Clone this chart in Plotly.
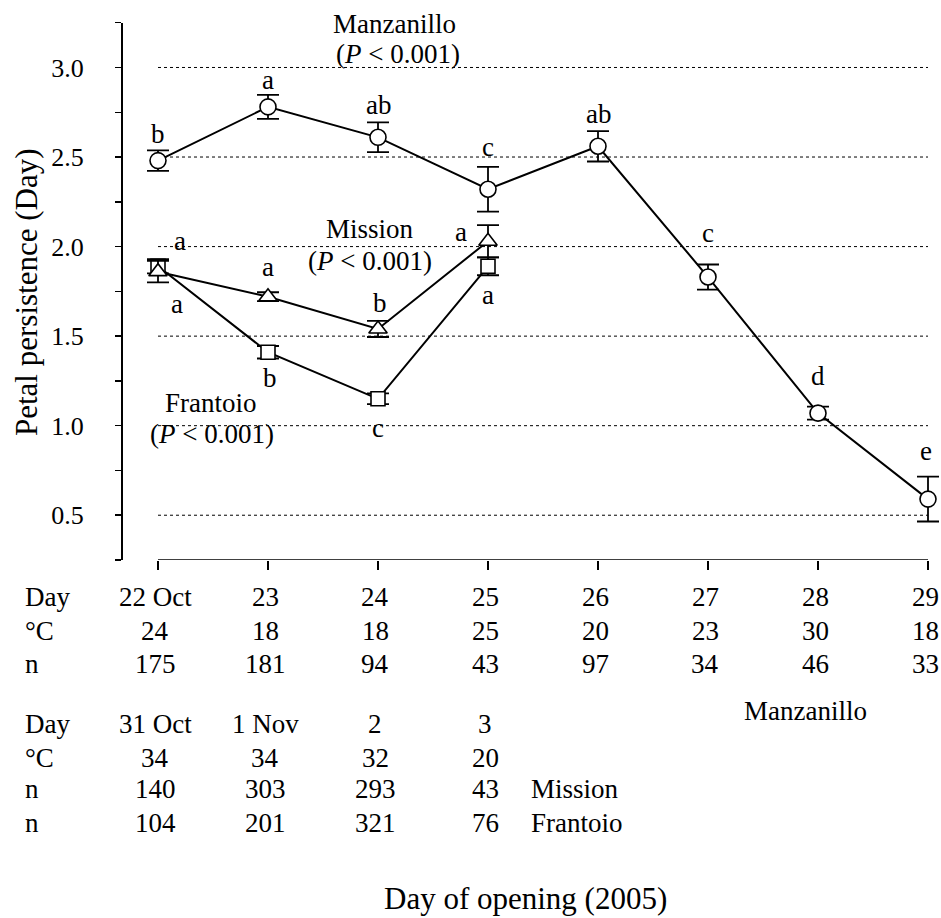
import plotly.graph_objects as go

# ---------------- data ----------------
days = ["22 Oct", "23", "24", "25", "26", "27", "28", "29"]
temp_c = [24, 18, 18, 25, 20, 23, 30, 18]
n_manzanillo = [175, 181, 94, 43, 97, 34, 46, 33]

days2 = ["31 Oct", "1 Nov", "2", "3"]
temp_c2 = [34, 34, 32, 20]
n_mission = [140, 303, 293, 43]
n_frantoio = [104, 201, 321, 76]

manz_mean = [2.48, 2.78, 2.61, 2.32, 2.56, 1.83, 1.07, 0.59]
manz_se = [0.057, 0.067, 0.083, 0.125, 0.085, 0.07, 0.036, 0.125]
mission_mean = [1.86, 1.72, 1.54, 2.03]
mission_se = [0.06, 0.025, 0.045, 0.09]
frantoio_mean = [1.89, 1.41, 1.15, 1.89]
frantoio_se = [0.04, 0.035, 0.03, 0.05]

manz_letters = ["b", "a", "ab", "c", "ab", "c", "d", "e"]
mission_letters = ["a", "a", "b", "a"]
frantoio_letters = ["a", "b", "c", "a"]

y_ticks = [0.5, 1.0, 1.5, 2.0, 2.5, 3.0]
y_minor = [0.25, 0.75, 1.25, 1.75, 2.25, 2.75, 3.25]
y_range = [0.25, 3.25]

# ---------------- layout helpers ----------------
W, H = 941, 918
FONT = "Liberation Serif"


def px(x):
    return x / W


def py(y):
    return 1 - y / H


# letter offsets (pixels) relative to each point
manz_off = [(0, 27), (0, 27), (0, 32), (0, 42), (0, 32), (0, 44), (0, 37), (-2, 48)]
mission_off = [(22, 31), (0, 30), (2, 26), (-27, 9)]
frantoio_off = [(19, -38), (2, -26), (0, -29), (0, -29)]

x_all = list(range(len(days)))
x_sub = list(range(len(days2)))
x_last = x_all[-1]

# x scale: first category at 158px, 110px per category; a little padding on
# both sides so that the error-bar caps at the ends are not clipped
X0_PX, STEP_PX = 158, 110
PAD_L = 0.15
x_range = [-PAD_L, x_last + (W - (X0_PX + x_last * STEP_PX)) / STEP_PX]

fig = go.Figure()


def add_series(x, y, se, symbol, size):
    fig.add_trace(go.Scatter(
        x=x, y=y, mode="lines+markers",
        line=dict(color="black", width=2),
        marker=dict(symbol=symbol, size=size, color="white",
                    line=dict(color="black", width=1.6)),
        error_y=dict(type="data", array=se, visible=True, color="black",
                     thickness=1.8, width=11),
        cliponaxis=False, showlegend=False, hoverinfo="skip",
    ))


add_series(x_sub, frantoio_mean, frantoio_se, "square", 14)
add_series(x_sub, mission_mean, mission_se, "triangle-up", 16)
add_series(x_all, manz_mean, manz_se, "circle", 16)

ann = []


def letters(xs, ys, labs, offs):
    for xv, yv, lab, (dx, dy) in zip(xs, ys, labs, offs):
        ann.append(dict(x=xv, y=yv, xref="x", yref="y", text=lab,
                        showarrow=False, xshift=dx, yshift=dy,
                        xanchor="center", yanchor="middle",
                        font=dict(family=FONT, size=27, color="black")))


letters(x_all, manz_mean, manz_letters, manz_off)
letters(x_sub, mission_mean, mission_letters, mission_off)
letters(x_sub, frantoio_mean, frantoio_letters, frantoio_off)


def ptext(x, y, text, size=27, xanchor="center", angle=0):
    ann.append(dict(x=px(x), y=py(y), xref="paper", yref="paper", text=text,
                    showarrow=False, xanchor=xanchor, yanchor="middle",
                    textangle=angle,
                    font=dict(family=FONT, size=size, color="black")))


P_TXT = "(<i>P</i> < 0.001)"
ptext(394, 24, "Manzanillo")
ptext(398, 54, P_TXT)
ptext(370, 229, "Mission")
ptext(370, 261, P_TXT)
ptext(211, 403, "Frantoio")
ptext(212, 434, P_TXT)


# table rows under the axis
def row(xs, vals, ymid):
    for xv, v in zip(xs, vals):
        ann.append(dict(x=xv, y=py(ymid), xref="x", yref="paper", text=str(v),
                        showarrow=False, xshift=-3, xanchor="center",
                        yanchor="middle",
                        font=dict(family=FONT, size=27, color="black")))


row(x_all, days, 597)
row(x_all, temp_c, 631)
row(x_all, n_manzanillo, 664)
row(x_sub, days2, 724)
row(x_sub, temp_c2, 758)
row(x_sub, n_mission, 789)
row(x_sub, n_frantoio, 823)

for lab, ymid in [("Day", 597), ("°C", 631), ("n", 664),
                  ("Day", 724), ("°C", 758), ("n", 789), ("n", 823)]:
    ptext(23, ymid, lab, xanchor="left")

ptext(805, 711, "Manzanillo")
ptext(529, 789, "Mission", xanchor="left")
ptext(529, 823, "Frantoio", xanchor="left")

ptext(525, 898, "Day of opening (2005)", size=31)
ptext(26, 292, "Petal persistence (Day)", size=31, angle=-90)

# x-axis line and dotted gridlines span only the first..last category
shapes = [dict(type="line", xref="x", yref="y", x0=0, x1=x_last,
               y0=y_range[0], y1=y_range[0],
               line=dict(color="black", width=1.5), layer="above")]
for v in y_ticks:
    shapes.append(dict(type="line", xref="x", yref="y", x0=0, x1=x_last,
                       y0=v, y1=v, layer="below",
                       line=dict(color="black", width=1, dash="dot")))

fig.update_layout(
    width=W, height=H, autosize=False,
    margin=dict(l=0, r=0, t=0, b=0),
    paper_bgcolor="white", plot_bgcolor="white",
    font=dict(family=FONT, size=26, color="black"),
    annotations=ann,
    shapes=shapes,
    xaxis=dict(
        domain=[px(X0_PX - PAD_L * STEP_PX), 1], range=x_range, anchor="y",
        showline=False,
        tickvals=x_all, ticks="outside", ticklen=9, tickwidth=1.5,
        tickcolor="black", showticklabels=False,
        showgrid=False, zeroline=False,
    ),
    yaxis=dict(
        domain=[py(560), py(22.7)], range=y_range,
        anchor="free", position=px(121),
        showline=True, linecolor="black", linewidth=1.8,
        tickvals=y_ticks, ticktext=[f"{v:.1f}" for v in y_ticks],
        ticks="outside", ticklen=6, tickwidth=1.5, tickcolor="black",
        ticklabelstandoff=26,
        tickfont=dict(family=FONT, size=26, color="black"),
        showgrid=False, zeroline=False,
        minor=dict(tickvals=y_minor, ticks="outside", ticklen=6,
                   tickwidth=1.5, tickcolor="black", showgrid=False),
    ),
)

# remove the default page margin so the figure fills the window exactly
fig.write_html(
    "out.html",
    config={"displayModeBar": False, "staticPlot": True},
    post_script="document.body.style.margin='0px';"
                "document.body.style.overflow='hidden';",
)
